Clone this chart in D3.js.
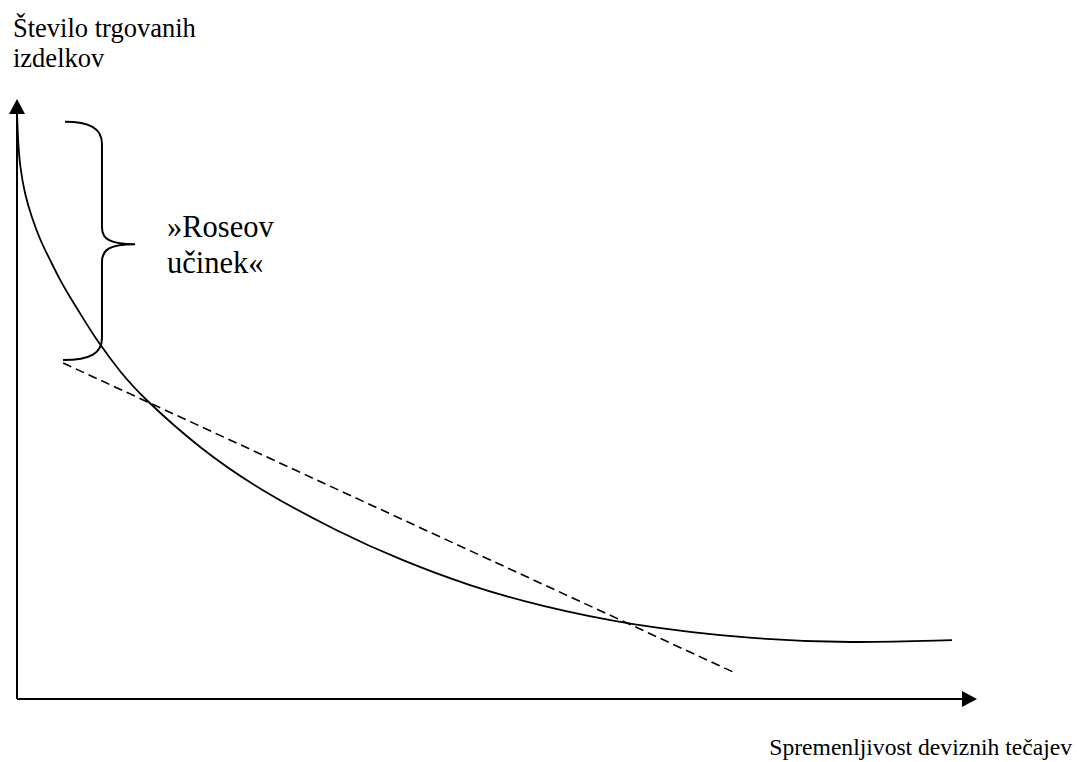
<!DOCTYPE html>
<html>
<head>
<meta charset="utf-8">
<script src="https://cdn.jsdelivr.net/npm/d3@7"></script>
<style>
  body { margin: 0; background: #fff; }
</style>
</head>
<body>
<div id="chart"></div>
<script>
// curve: number of traded goods vs exchange rate volatility (0..100 on both axes)
const curveX = [0, 0.10, 0.31, 0.83, 1.53, 2.4, 3.44, 4.48, 5.7, 6.98, 8.3, 10.73, 13.13, 19.06, 25.31, 33.65, 39.9, 47.19, 54.48, 63.85, 76.35, 86.77, 97.4];
const curveY = [97.8, 93.2, 88.7, 84.0, 80.3, 76.5, 73.2, 69.8, 66.5, 63.2, 59.8, 54.5, 50.2, 41.7, 34.8, 27.7, 23.2, 18.8, 15.5, 12.3, 10.0, 9.3, 9.8];

// dashed linear line
const lineX = [4.8, 74.6];
const lineY = [56.0, 4.5];

// brace for the "Rose effect"
const braceX = [5.0, 8.85, 12.3];   // ends, spine, tip
const braceY = [96.2, 75.8, 56.5];  // top, tip, bottom

const yTitle = ["Število trgovanih", "izdelkov"];
const xTitle = "Spremenljivost deviznih tečajev";
const braceLabel = ["»Roseov", "učinek«"];

const width = 1077, height = 762;
const font = "'Liberation Serif', 'Times New Roman', Times, serif";

const svg = d3.select("#chart")
    .append("svg")
    .attr("width", width)
    .attr("height", height);

const x = d3.scaleLinear().domain([0, 100]).range([17, 977]);
const y = d3.scaleLinear().domain([0, 100]).range([699, 99]);

// axes with arrows
svg.append("line")
    .attr("x1", x(0)).attr("y1", y(0))
    .attr("x2", x(0)).attr("y2", y(100) + 10)
    .attr("stroke", "#000").attr("stroke-width", 2);
svg.append("path")
    .attr("d", `M${x(0)},${y(100)} L${x(0) - 8},${y(100) + 15} L${x(0) + 8},${y(100) + 15} Z`)
    .attr("fill", "#000");

svg.append("line")
    .attr("x1", x(0)).attr("y1", y(0))
    .attr("x2", x(100) - 10).attr("y2", y(0))
    .attr("stroke", "#000").attr("stroke-width", 2);
svg.append("path")
    .attr("d", `M${x(100)},${y(0)} L${x(100) - 15},${y(0) - 8} L${x(100) - 15},${y(0) + 8} Z`)
    .attr("fill", "#000");

// main curve
const pts = curveX.map((d, i) => [d, curveY[i]]);
svg.append("path")
    .datum(pts)
    .attr("fill", "none")
    .attr("stroke", "#000")
    .attr("stroke-width", 1.8)
    .attr("d", d3.line()
        .x(d => x(d[0]))
        .y(d => y(d[1]))
        .curve(d3.curveBasis));

// dashed line
svg.append("line")
    .attr("x1", x(lineX[0])).attr("y1", y(lineY[0]))
    .attr("x2", x(lineX[1])).attr("y2", y(lineY[1]))
    .attr("stroke", "#000")
    .attr("stroke-width", 1.6)
    .attr("stroke-dasharray", "9,5");

// brace
const xe = x(braceX[0]), xs = x(braceX[1]), xt = x(braceX[2]);
const yt = y(braceY[0]), ym = y(braceY[1]), yb = y(braceY[2]);
const brace = d3.path();
brace.moveTo(xe, yt);
brace.bezierCurveTo(xe + 24, yt, xs, yt + 6, xs, yt + 22);
brace.lineTo(xs, ym - 17);
brace.bezierCurveTo(xs, ym - 5, xs + 8, ym, xt, ym);
brace.bezierCurveTo(xs + 8, ym, xs, ym + 5, xs, ym + 18);
brace.lineTo(xs, yb - 22);
brace.bezierCurveTo(xs, yb - 7, xe + 26, yb, xe - 2, yb);
svg.append("path")
    .attr("d", brace.toString())
    .attr("fill", "none")
    .attr("stroke", "#000")
    .attr("stroke-width", 2);

// labels
svg.selectAll(".ytitle")
    .data(yTitle)
    .join("text")
    .attr("class", "ytitle")
    .attr("x", 13)
    .attr("y", (d, i) => 37 + i * 29.5)
    .attr("font-family", font)
    .attr("font-size", "26.5px")
    .text(d => d);

svg.selectAll(".brace-label")
    .data(braceLabel)
    .join("text")
    .attr("class", "brace-label")
    .attr("x", 167)
    .attr("y", (d, i) => 237 + i * 36)
    .attr("font-family", font)
    .attr("font-size", "30.5px")
    .text(d => d);

svg.append("text")
    .attr("x", 1072)
    .attr("y", 755)
    .attr("text-anchor", "end")
    .attr("font-family", font)
    .attr("font-size", "23.6px")
    .text(xTitle);
</script>
</body>
</html>
